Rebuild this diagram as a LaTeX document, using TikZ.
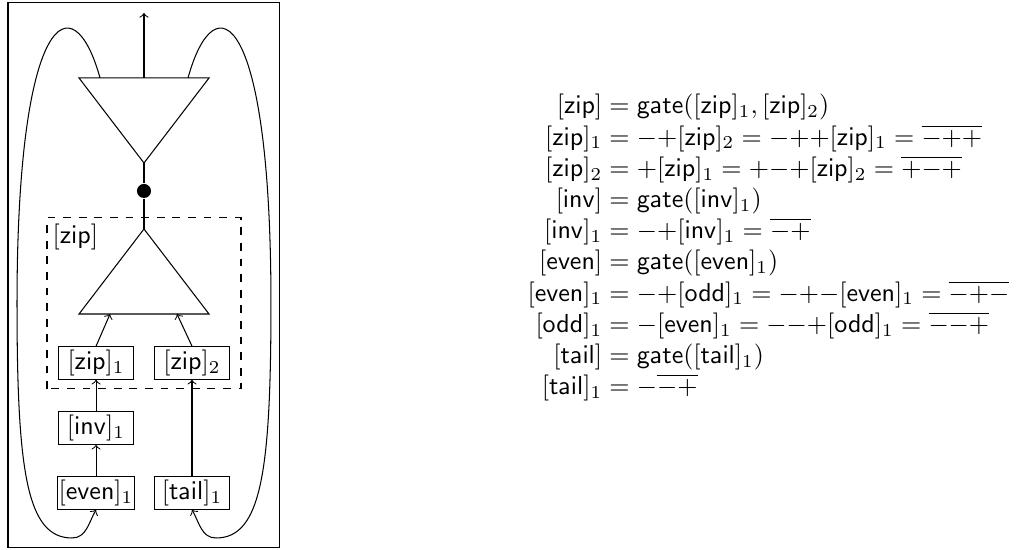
\documentclass[tikz,border=0pt]{standalone}
\usepackage{amsmath}
\newcommand{\tok}[1]{[\mathsf{#1}]}
\tikzset{
    cell/.style={draw, minimum width=1.02cm, minimum height=0.44cm, inner sep=0.5pt},
    junction/.style={circle, fill, inner sep=0pt, minimum size=0.19cm},
}

\begin{document}
\begin{tikzpicture}[>=to]
    \useasboundingbox (0,0) rectangle (13.88,7.42);
    \draw (0.108,0.02) rectangle (3.771,7.380);

    % gates
    \draw (1.068,6.366) -- (2.825,6.366) -- (1.946,5.217) coordinate (topapex) -- cycle;
    \draw (1.068,3.176) -- (2.825,3.176) -- (1.946,4.325) coordinate (botapex) -- cycle;
    \coordinate (gout) at (1.946,6.366);
    \coordinate (top) at (1.946,7.245);
    \coordinate (in1) at (1.487,3.176);
    \coordinate (in2) at (2.392,3.176);
    \coordinate (lp) at (1.352,6.366);
    \coordinate (rp) at (2.541,6.366);

    \node[junction] (dot) at (1.946,4.839) {};
    \draw (topapex) -- (dot) -- (botapex);
    \draw[->] (gout) -- (top);

    % the zip box
    \draw[dashed] (0.635,2.163) rectangle (3.257,4.474);
    \node[anchor=north west, inner sep=2pt] (ziplabel) at (0.635,4.474) {$\tok{zip}$};

    \node[cell] (zip1) at (1.298,2.514) {$\tok{zip}_1$};
    \node[cell] (zip2) at (2.595,2.514) {$\tok{zip}_2$};
    \node[cell] (inv1) at (1.298,1.635) {$\tok{inv}_1$};
    \node[cell] (even1) at (1.298,0.757) {$\tok{even}_1$};
    \node[cell] (tail1) at (2.595,0.757) {$\tok{tail}_1$};

    \draw[->] (zip1.north) -- (in1);
    \draw[->] (zip2.north) -- (in2);
    \draw[->] (inv1) -- (zip1);
    \draw[->] (even1) -- (inv1);
    \draw[->] (tail1) -- (zip2);

    % feedback loops
    \draw[->] (lp) .. controls (0.987,7.685) and (0.230,7.27) .. (0.230,3.323)
        .. controls (0.230,1.04) and (0.363,0.149) .. (0.973,0.149)
        to[out=0,in=-120] (even1.south);
    \draw[->] (rp) .. controls (2.905,7.685) and (3.662,7.27) .. (3.662,3.323)
        .. controls (3.662,1.04) and (3.529,0.149) .. (2.919,0.149)
        to[out=180,in=-60] (tail1.south);

    \node[anchor=west, inner sep=0pt] (eqs) at (7.123,4.068) {$\begin{array}{@{}r@{}l@{}}
        \tok{zip} & {}= \mathsf{gate}(\tok{zip}_1, \tok{zip}_2)\\
        \tok{zip}_1 & {}= {-}{+}\tok{zip}_2 = {-}{+}{+}\tok{zip}_1 = \overline{{-}{+}{+}}\\
        \tok{zip}_2 & {}= {+}\tok{zip}_1 = {+}{-}{+}\tok{zip}_2 = \overline{{+}{-}{+}}\\
        \tok{inv} & {}= \mathsf{gate}(\tok{inv}_1)\\
        \tok{inv}_1 & {}= {-}{+}\tok{inv}_1 = \overline{{-}{+}}\\
        \tok{even} & {}= \mathsf{gate}(\tok{even}_1)\\
        \tok{even}_1 & {}= {-}{+}\tok{odd}_1 = {-}{+}{-}\tok{even}_1 = \overline{{-}{+}{-}}\\
        \tok{odd}_1 & {}= {-}\tok{even}_1 = {-}{-}{+}\tok{odd}_1 = \overline{{-}{-}{+}}\\
        \tok{tail} & {}= \mathsf{gate}(\tok{tail}_1)\\
        \tok{tail}_1 & {}= {-}\overline{{-}{+}}
    \end{array}$};
\end{tikzpicture}
\end{document}
